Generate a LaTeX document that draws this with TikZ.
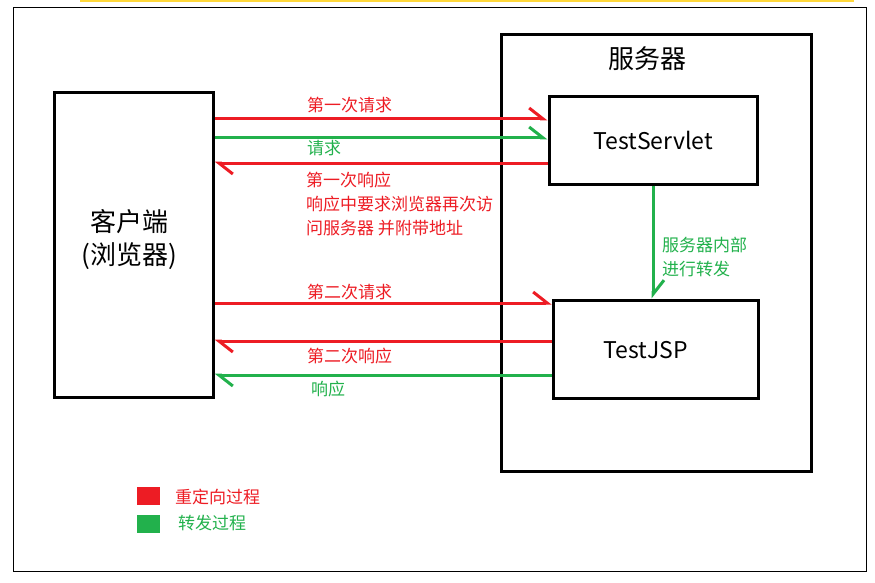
\documentclass[tikz,border=0pt]{standalone}
\usepackage{fontspec}
\setmainfont{Noto Sans CJK SC}
\usetikzlibrary{arrows.meta}
\definecolor{redir}{HTML}{ED1C24}
\definecolor{fwd}{HTML}{22B14C}
\definecolor{topline}{HTML}{FFD83B}

\begin{document}
\begin{tikzpicture}[x=1pt, y=-1pt, inner sep=0pt,
  box/.style={draw, line width=3pt},
  flow/.style={line width=3pt, -{Straight Barb[left,length=14pt,width=22pt]}},
  redflow/.style={flow, redir},
  greenflow/.style={flow, fwd},
  redlabel/.style={anchor=west, text=redir, align=left, font=\fontsize{17}{24}\selectfont},
  greenlabel/.style={anchor=west, text=fwd, align=left, font=\fontsize{17}{24}\selectfont},
  keybox/.style={minimum width=23pt, minimum height=18pt}]

\useasboundingbox (0,0) rectangle (875,583);
\fill[topline] (80,0) rectangle (854,2);
\draw[line width=1pt] (13.5,7.5) rectangle (866,571);

\node[box, minimum width=159pt, minimum height=304pt] (client) at (133.5,245) {};
\node[align=center, font=\fontsize{26}{33}\selectfont] (clienttext) at (129,240) {客户端\\(浏览器)};
\node[box, minimum width=310pt, minimum height=436pt] (server) at (656,253) {};
\node[font=\fontsize{26}{30}\selectfont] (title) at (647,59) {服务器};
\node[box, minimum width=208pt, minimum height=87pt,
  font=\fontsize{23}{26}\selectfont] (servlet) at (653,140.5) {TestServlet};
\node[box, minimum width=205pt, minimum height=98pt] (jsp) at (655.5,349) {};
\node[font=\fontsize{23}{26}\selectfont] (jsptext) at (645.5,350) {TestJSP};

\draw[redflow] (client.east |- 0,119) -- (servlet.west |- 0,119);
\draw[greenflow] (client.east |- 0,138) -- (servlet.west |- 0,138);
\draw[redflow] (servlet.west |- 0,163) -- (client.east |- 0,163);
\draw[redflow] (client.east |- 0,303) -- (jsp.west |- 0,303);
\draw[redflow] (jsp.west |- 0,341) -- (client.east |- 0,341);
\draw[greenflow] (jsp.west |- 0,375) -- (client.east |- 0,375);
\draw[greenflow] (servlet.south) -- (servlet.south |- jsp.north);

\node[redlabel] (req1) at (307,105) {第一次请求};
\node[greenlabel] (req) at (307,148) {请求};
\node[redlabel] (resp1) at (306,204) {第一次响应\\响应中要求浏览器再次访\\问服务器 并附带地址};
\node[redlabel] (req2) at (307,292) {第二次请求};
\node[redlabel] (resp2) at (307,356) {第二次响应};
\node[greenlabel] (resp) at (311,389) {响应};
\node[greenlabel] (inner) at (662,257) {服务器内部\\进行转发};

\node[keybox, fill=redir] (redkey) at (148.5,496) {};
\node[keybox, fill=fwd] (greenkey) at (148.5,523.5) {};
\node[redlabel] (redtext) at (175,497) {重定向过程};
\node[greenlabel] (greentext) at (178,523) {转发过程};

\end{tikzpicture}
\end{document}
